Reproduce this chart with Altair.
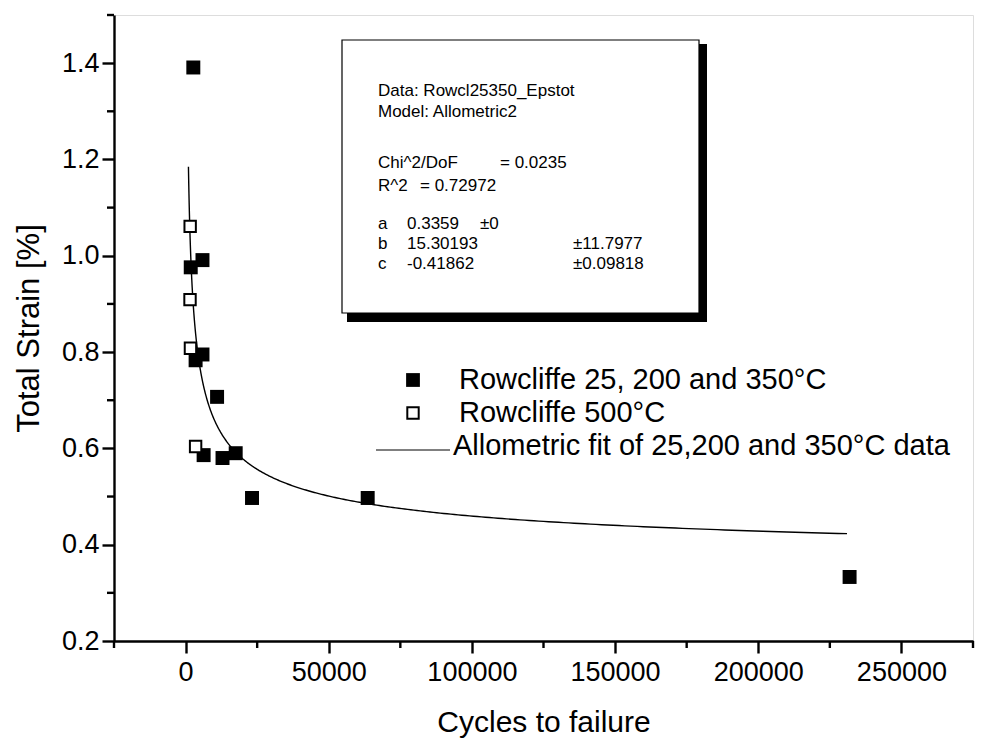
import altair as alt
import numpy as np
import pandas as pd

# Rowcliffe data, 25, 200 and 350 °C (filled squares)
solid_cycles = [2700, 1800, 5900, 3500, 5900, 11000, 6300, 12900, 17500, 23200, 63600, 231900]
solid_strain = [1.391, 0.976, 0.991, 0.783, 0.795, 0.707, 0.586, 0.580, 0.590, 0.497, 0.497, 0.333]

# Rowcliffe data, 500 °C (open squares)
open_cycles = [1600, 1550, 1700, 3500]
open_strain = [1.061, 0.909, 0.808, 0.604]

# Allometric2 fit parameters: y = a + b * x^c
fit_a, fit_b, fit_c = 0.3359, 15.30193, -0.41862
fit_range = [1000, 231000]

x_ticks = [0, 50000, 100000, 150000, 200000, 250000]
x_minor = [-25000, 25000, 75000, 125000, 175000, 225000, 275000]
y_ticks = [0.2, 0.4, 0.6, 0.8, 1.0, 1.2, 1.4]
y_minor = [0.3, 0.5, 0.7, 0.9, 1.1, 1.3, 1.5]

box_lines = [
    "Data: Rowcl25350_Epstot",
    "Model: Allometric2",
]
box_stats = [("Chi^2/DoF", "= 0.0235"), ("R^2", "=  0.72972")]
box_params = [("a", "0.3359", "±0", ""), ("b", "15.30193", "", "±11.7977"), ("c", "-0.41862", "", "±0.09818")]

legend_labels = [
    "Rowcliffe 25, 200 and 350°C",
    "Rowcliffe 500°C",
    "Allometric fit of 25,200 and 350°C data",
]

FONT = "Liberation Sans"
W, H = 859, 626

solid_df = pd.DataFrame({"cycles": solid_cycles, "strain": solid_strain})
open_df = pd.DataFrame({"cycles": open_cycles, "strain": open_strain})
fit_x = np.geomspace(fit_range[0], fit_range[1], 400)
fit_df = pd.DataFrame({"cycles": fit_x, "strain": fit_a + fit_b * fit_x ** fit_c})

xscale = alt.Scale(domain=[-25000, 275000], nice=False, zero=False)
yscale = alt.Scale(domain=[0.2, 1.5], nice=False, zero=False)

x_axis = alt.Axis(
    values=x_ticks, format="d", title="Cycles to failure", grid=False,
    domainColor="black", domainWidth=2.4, tickColor="black", tickWidth=2.4, tickSize=12,
    labelFont=FONT, labelFontSize=27, labelColor="black", labelPadding=6,
    titleFont=FONT, titleFontSize=30, titleFontWeight="normal", titleColor="black",
    titlePadding=22,
)
y_axis = alt.Axis(
    values=y_ticks, format=".1f", title="Total Strain [%]", grid=False,
    domainColor="black", domainWidth=2.4, tickColor="black", tickWidth=2.4, tickSize=12,
    labelFont=FONT, labelFontSize=27, labelColor="black", labelPadding=3,
    titleFont=FONT, titleFontSize=31, titleFontWeight="normal", titleColor="black",
    titlePadding=16,
)

fit_line = alt.Chart(fit_df).mark_line(color="black", strokeWidth=1.4).encode(
    x=alt.X("cycles:Q", scale=xscale, axis=x_axis),
    y=alt.Y("strain:Q", scale=yscale, axis=y_axis),
)

solid_pts = alt.Chart(solid_df).mark_point(
    shape="square", filled=True, color="black", size=195, opacity=1
).encode(x="cycles:Q", y="strain:Q")

open_pts = alt.Chart(open_df).mark_point(
    shape="square", filled=False, color="black", fill="white", fillOpacity=1,
    strokeWidth=2, size=130, opacity=1
).encode(x="cycles:Q", y="strain:Q")

minor_x = alt.Chart(pd.DataFrame({"v": x_minor})).mark_rule(color="black", strokeWidth=2.4).encode(
    x="v:Q", y=alt.value(H), y2=alt.value(H + 7)
)
minor_y = alt.Chart(pd.DataFrame({"v": y_minor})).mark_rule(color="black", strokeWidth=2.4).encode(
    y="v:Q", x=alt.value(0), x2=alt.value(-7)
)

one = pd.DataFrame({"_": [0]})


def text_at(txt, px, py, size, align="left"):
    return alt.Chart(one).mark_text(
        align=align, baseline="middle", font=FONT, fontSize=size, color="black"
    ).encode(x=alt.value(px), y=alt.value(py), text=alt.value(txt))


# Fit report box (plot-area pixel coordinates)
bx0, by0, bx1, by1 = 228, 25, 585, 298
shadow = alt.Chart(one).mark_rect(color="black").encode(
    x=alt.value(bx0 + 5), x2=alt.value(bx1 + 8), y=alt.value(by0 + 4), y2=alt.value(by1 + 9)
)
box = alt.Chart(one).mark_rect(fill="white", stroke="black", strokeWidth=1.2).encode(
    x=alt.value(bx0), x2=alt.value(bx1), y=alt.value(by0), y2=alt.value(by1)
)
box_layers = [shadow, box]
tx = bx0 + 36
box_size = 17
for i, line in enumerate(box_lines):
    box_layers.append(text_at(line, tx, 76 + 21 * i, box_size))
stat_val_x = [tx + 122, tx + 42]
for i, (k, v) in enumerate(box_stats):
    box_layers.append(text_at(k, tx, 148 + 23 * i, box_size))
    box_layers.append(text_at(v, stat_val_x[i], 148 + 23 * i, box_size))
for i, (k, v, pm, e) in enumerate(box_params):
    yy = 209 + 20 * i
    box_layers.append(text_at(k, tx, yy, box_size))
    box_layers.append(text_at(v, tx + 29, yy, box_size))
    if pm:
        box_layers.append(text_at(pm, tx + 102, yy, box_size))
    if e:
        box_layers.append(text_at(e, tx + 195, yy, box_size))

# Legend (plot-area pixel coordinates)
lg_sym_x, lg_txt_x = 299, 345
lg_y = [365, 398, 431]
lg_size = 29
legend_layers = [
    alt.Chart(one).mark_point(shape="square", filled=True, color="black", size=190, opacity=1).encode(
        x=alt.value(lg_sym_x), y=alt.value(lg_y[0])
    ),
    alt.Chart(one).mark_point(shape="square", filled=False, color="black", strokeWidth=2, size=130, opacity=1).encode(
        x=alt.value(lg_sym_x), y=alt.value(lg_y[1])
    ),
    alt.Chart(one).mark_rule(color="black", strokeWidth=1).encode(
        x=alt.value(262), x2=alt.value(336), y=alt.value(lg_y[2] + 4)
    ),
    text_at(legend_labels[0], lg_txt_x, lg_y[0], lg_size),
    text_at(legend_labels[1], lg_txt_x, lg_y[1], lg_size),
    text_at(legend_labels[2], lg_txt_x - 6, lg_y[2], lg_size),
]

chart = alt.layer(
    fit_line, minor_x, minor_y, solid_pts, open_pts, *box_layers, *legend_layers
).properties(
    width=W, height=H, autosize="none",
    padding={"left": 114, "top": 15, "right": 25, "bottom": 103},
).configure_view(stroke=None).configure(background="white")

chart.save("out.html", embed_options={"renderer": "svg", "actions": False})
